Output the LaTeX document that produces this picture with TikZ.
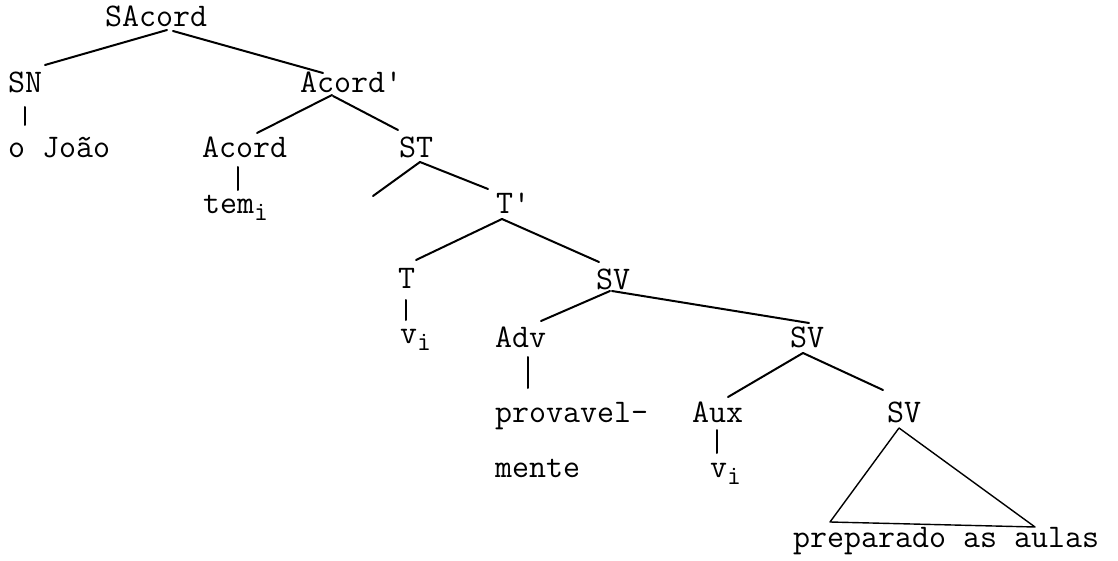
\documentclass[tikz,border=0pt]{standalone}
\usepackage{fontspec}
\newcommand\mysubi{\raisebox{-7pt}{\fontsize{27}{27}\selectfont i}}
\begin{document}
\begin{tikzpicture}[x=1pt,y=-1pt,
  lbl/.style={anchor=base west, inner sep=0pt, font=\ttfamily\fontsize{33}{38}\selectfont},
  edge/.style={line width=2pt, line cap=round},
  tri/.style={line width=1.4pt, line join=round}]
\fill[white] (0,0) rectangle (1118,561);
\useasboundingbox (0,0) rectangle (1118,561);
% labels
\node[lbl] (sacord) at (105,27) {SAcord};
\node[lbl] (sn) at (8,93) {SN};
\node[lbl] (ojoao) at (8,158) {o João};
\node[lbl] (acordp) at (300,93) {Acord\textquotesingle};
\node[lbl] (acord) at (202,158) {Acord};
\node[lbl] (st) at (399,158) {ST};
\node[lbl] (tem) at (203,214) {tem\mysubi};
\node[lbl] (tp) at (496,214) {T\textquotesingle};
\node[lbl] (t) at (398,288) {T};
\node[lbl] (sv1) at (596,289) {SV};
\node[lbl] (vi1) at (400,343) {v\mysubi};
\node[lbl] (adv) at (495,347) {Adv};
\node[lbl] (sv2) at (790,347) {SV};
\node[lbl] (prov) at (495,422) {provavel-};
\node[lbl] (aux) at (692,422) {Aux};
\node[lbl] (sv3) at (887,422) {SV};
\node[lbl] (mente) at (495,477) {mente};
\node[lbl] (vi2) at (710,477) {v\mysubi};
\node[lbl] (prep) at (793,547) {preparado as aulas};
\coordinate (stspec) at (373,196);
% connectors
\draw[edge] ([shift={(62,3)}]sacord.base west) -- ([shift={(37,-28)}]sn.base west);
\draw[edge] ([shift={(68,4)}]sacord.base west) -- ([shift={(23,-20)}]acordp.base west);
\draw[edge] ([shift={(17,14)}]sn.base west) -- ([shift={(17,-33)}]ojoao.base west);
\draw[edge] ([shift={(32,2)}]acordp.base west) -- ([shift={(55,-25)}]acord.base west);
\draw[edge] ([shift={(33,3)}]acordp.base west) -- ([shift={(-1,-28)}]st.base west);
\draw[edge] ([shift={(36,9)}]acord.base west) -- ([shift={(35,-24)}]tem.base west);
\draw[edge] ([shift={(21,4)}]st.base west) -- (stspec);
\draw[edge] ([shift={(21,4)}]st.base west) -- ([shift={(-8,-25)}]tp.base west);
\draw[edge] ([shift={(6,5)}]tp.base west) -- ([shift={(18,-28)}]t.base west);
\draw[edge] ([shift={(6,5)}]tp.base west) -- ([shift={(3,-27)}]sv1.base west);
\draw[edge] ([shift={(8,12)}]t.base west) -- ([shift={(6,-23)}]vi1.base west);
\draw[edge] ([shift={(14,2)}]sv1.base west) -- ([shift={(46,-26)}]adv.base west);
\draw[edge] ([shift={(16,2)}]sv1.base west) -- ([shift={(19,-24)}]sv2.base west);
\draw[edge] ([shift={(33,10)}]adv.base west) -- ([shift={(33,-34)}]prov.base west);
\draw[edge] ([shift={(13,6)}]sv2.base west) -- ([shift={(36,-25)}]aux.base west);
\draw[edge] ([shift={(13,6)}]sv2.base west) -- ([shift={(-4,-32)}]sv3.base west);
\draw[edge] ([shift={(25,8)}]aux.base west) -- ([shift={(7,-24)}]vi2.base west);
\draw[tri] ([shift={(12,6)}]sv3.base west) -- ([shift={(37,-25)}]prep.base west)
  -- ([shift={(242,-20)}]prep.base west) -- cycle;
\end{tikzpicture}
\end{document}
